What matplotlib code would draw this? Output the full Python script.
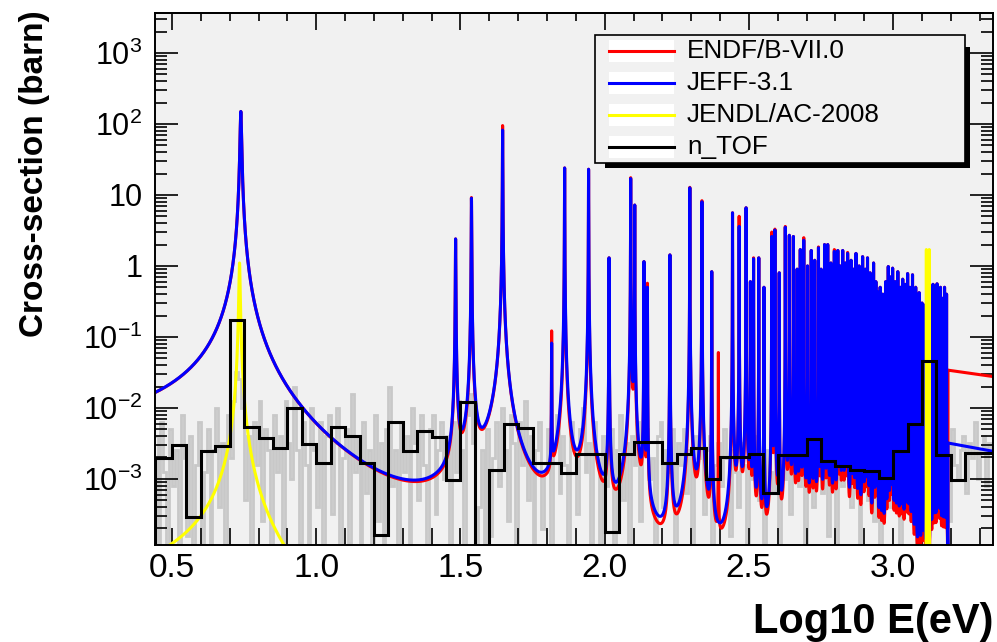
import numpy as np
import matplotlib.pyplot as plt
from matplotlib.ticker import MultipleLocator, LogLocator, FuncFormatter, NullFormatter
from matplotlib.patches import Rectangle
from matplotlib.lines import Line2D

plt.rcParams['font.family'] = ['Liberation Sans', 'DejaVu Sans']
plt.rcParams['mathtext.fontset'] = 'custom'
plt.rcParams['mathtext.rm'] = 'Liberation Sans'
plt.rcParams['mathtext.it'] = 'Liberation Sans:italic'
plt.rcParams['mathtext.bf'] = 'Liberation Sans:bold'

# --- resolved resonances: log10 E(eV) and peak cross-section (barn) ---
res_log_e = [0.7385, 1.483, 1.538, 1.646, 1.816, 1.861, 1.944, 2.015, 2.090, 2.104,
             2.136, 2.148, 2.226, 2.295, 2.337, 2.371, 2.394, 2.443, 2.466, 2.490,
             2.505, 2.516, 2.534, 2.552, 2.579, 2.590, 2.605, 2.626, 2.640, 2.654,
             2.667, 2.678, 2.690, 2.703, 2.716, 2.728, 2.741, 2.750, 2.762, 2.773,
             2.784, 2.796, 2.808, 2.816, 2.825, 2.834, 2.842, 2.854, 2.862, 2.871,
             2.882, 2.894, 2.903, 2.911, 2.920, 2.932, 2.940, 2.946, 2.955, 2.964,
             2.974, 2.983, 2.991, 2.998, 3.007, 3.016, 3.025, 3.033, 3.042, 3.050,
             3.058, 3.067, 3.078, 3.090, 3.100, 3.108, 3.116, 3.130, 3.138, 3.145,
             3.152, 3.158, 3.164, 3.171, 3.178, 3.185]
jeff_peak = [150, 2.4, 9.0, 82, 0.08, 24, 23, 1.3, 17, 7.2,
             1.15, 0.5, 1.43, 12.6, 8.0, 0.83, 0, 5.6, 3.6, 6.6,
             0.6, 1.26, 1.3, 0.5, 2.6, 3.2, 0.8, 3.5, 2.7, 2.6,
             0.9, 1.7, 2.3, 1.0, 1.65, 1.2, 1.8, 0.9, 2.0, 2.0,
             1.1, 1.6, 1.65, 1.0, 1.65, 1.1, 1.5, 1.2, 0.9, 1.5,
             1.0, 1.35, 0.9, 1.3, 0.8, 1.1, 0.6, 0.43, 0.5, 0.4,
             0.6, 0.98, 0.7, 0.93, 0.6, 0.83, 0.5, 0.65, 0.55, 0.78,
             0.5, 0.75, 0.5, 0.42, 0.3, 0.28, 0.15, 0.4, 0.55, 0.35,
             0.56, 0.3, 0.5, 0.35, 0.5, 0.4]
endf_peak = [150, 2.4, 9.2, 95, 0.12, 24, 23, 1.3, 17.5, 7.2,
             1.15, 0.57, 1.43, 12.8, 8.3, 0.83, 0.06, 5.6, 5.0, 6.6,
             0.6, 1.3, 1.3, 0.5, 3.0, 3.3, 0.8, 3.6, 2.7, 2.6,
             0.9, 1.7, 2.5, 1.0, 1.65, 1.2, 1.85, 0.9, 2.0, 2.0,
             1.1, 1.7, 1.65, 1.0, 1.65, 1.1, 1.55, 1.2, 0.9, 1.5,
             1.0, 1.35, 0.9, 1.3, 0.8, 1.1, 0.6, 0.43, 0.5, 0.4,
             0.6, 0.98, 0.7, 0.93, 0.6, 0.83, 0.5, 0.65, 0.55, 0.78,
             0.5, 0.75, 0.5, 0.42, 0.3, 0.28, 0.15, 0.4, 0.55, 0.35,
             0.56, 0.3, 0.5, 0.35, 0.5, 0.4]

jendl_log_e = [0.734, 3.115, 3.125]
jendl_peak = [1.1, 1.7, 1.7]

# unresolved range: smooth evaluated cross sections
tail_log_e = [3.19, 3.35]
endf_tail = [0.034, 0.0275]
jeff_tail = [3.2e-3, 2.43e-3]

# n_TOF data, coarse binning
ntof_edges = [0.44] + [round(0.50 + 0.05 * k, 2) for k in range(58)]
ntof_xs = [1.95e-3, 3.0e-3, 2.9e-4, 2.43e-3, 2.9e-3, 0.173, 5.3e-3, 3.74e-3, 2.7e-3, 9.9e-3,
           3.07e-3, 1.66e-3, 5.3e-3, 4.08e-3, 1.7e-3, 1.63e-4, 6.4e-3, 2.48e-3, 4.75e-3, 3.95e-3,
           9.7e-4, 1.23e-2, 1e-6, 1.34e-3, 5.9e-3, 5.2e-3, 1.66e-3, 1.66e-3, 1.2e-3, 2.25e-3,
           2.25e-3, 1.81e-4, 2.25e-3, 3.36e-3, 3.36e-3, 1.7e-3, 2.25e-3, 2.7e-3, 1.0e-3, 2.06e-3,
           2.0e-3, 2.25e-3, 6.3e-4, 2.15e-3, 2.15e-3, 3.6e-3, 1.8e-3, 1.5e-3, 1.34e-3, 1.3e-3,
           1.02e-3, 2.43e-3, 5.95e-3, 4.6e-2, 2.2e-3, 9.7e-4, 2.35e-3, 2.35e-3]

# n_TOF data, fine binning of 0.01 (log10 of cross section, -5 marks an empty bin)
fine_edges = [round(0.44 + 0.01 * k, 2) for k in range(292)]
fine_log_xs = [
    -2.4, -4.5, -2.2, -2.9, -5, -2.3, -3.1, -2.6, -5, -2.1,
    -2.7, -3.8, -2.4, -5, -2.8, -2.2, -4.0, -2.9, -2.3, -5,
    -2.6, -2.0, -3.4, -2.5, -5, -2.1, -2.7, -1.9, -1.5, -1.6,
    -2.0, -3.3, -2.4, -5, -2.2, -2.8, -1.9, -3.6, -2.3, -2.6,
    -5, -2.1, -2.9, -2.4, -4.2, -1.9, -2.5, -3.0, -1.7, -2.6,
    -3.9, -2.2, -2.8, -5, -2.0, -2.6, -3.4, -2.2, -5, -2.4,
    -2.1, -3.5, -2.5, -2.0, -5, -2.7, -2.3, -3.9, -1.8, -2.9,
    -2.4, -5, -2.2, -3.2, -2.6, -5, -2.1, -3.6, -2.5, -4.8,
    -2.3, -1.7, -3.1, -2.6, -5, -2.2, -2.9, -2.4, -4.1, -2.0,
    -2.5, -3.3, -2.1, -2.8, -5, -2.3, -2.1, -3.5, -2.6, -2.2,
    -3.0, -2.4, -5, -2.2, -2.9, -1.9, -2.6, -4.0, -2.1, -1.8,
    -2.5, -5, -3.4, -2.6, -5, -2.3, -3.8, -2.7, -2.2, -3.1,
    -2.0, -2.6, -3.6, -2.1, -2.5, -5, -2.2, -2.8, -1.9, -3.3,
    -2.4, -5, -2.6, -2.2, -3.7, -2.9, -2.3, -5, -2.5, -2.1,
    -3.2, -2.4, -2.8, -5, -2.2, -2.6, -3.5, -2.3, -2.0, -2.9,
    -2.5, -3.9, -2.2, -2.7, -5, -2.4, -3.1, -2.6, -2.3, -4.4,
    -2.6, -2.1, -3.3, -2.5, -5, -2.4, -2.8, -2.2, -3.6, -2.5,
    -2.3, -3.0, -2.7, -5, -2.4, -2.2, -3.4, -2.6, -2.9, -2.3,
    -4.2, -2.5, -2.8, -2.3, -3.2, -2.6, -5, -2.4, -2.7, -2.2,
    -3.5, -2.6, -2.4, -5, -2.8, -2.5, -3.1, -2.3, -2.7, -3.8,
    -2.6, -2.9, -3.4, -2.5, -2.8, -5, -2.6, -3.0, -2.4, -3.3,
    -2.7, -3.9, -2.6, -2.9, -3.2, -2.5, -5, -2.8, -3.0, -2.6,
    -3.5, -2.7, -2.5, -3.1, -2.8, -5, -2.6, -2.9, -3.4, -2.5,
    -2.8, -3.2, -2.6, -3.8, -2.7, -2.9, -5, -2.6, -3.1, -2.8,
    -2.7, -3.4, -2.9, -2.6, -5, -3.0, -2.8, -3.3, -2.7, -3.6,
    -2.9, -5, -2.8, -3.1, -2.6, -3.4, -2.9, -2.7, -4.0, -2.8,
    -3.0, -2.7, -3.3, -2.6, -5, -2.9, -2.5, -3.2, -2.8, -3.5,
    -2.4, -2.9, -3.1, -2.6, -2.5, -3.6, -2.3, -2.8, -3.0, -2.6,
    -2.4, -3.2, -2.5, -2.7, -2.2, -3.0, -2.6, -2.4, -3.1, -2.5,
    -2.6]


def resonance_curve(log_e, peaks, a2, b, lo=0.44, hi=3.19):
    """Sum of Breit-Wigner shapes, half width sqrt(a2 + b*E)."""
    e0 = 10 ** np.asarray(log_e, float)
    p = np.asarray(peaks, float)
    keep = p > 0
    e0, p = e0[keep], p[keep]
    g = np.sqrt(a2 + b * e0)
    offs = np.array([0, 0.25, 0.5, 1, 2, 4, 8, 16, 32, 64, 128])
    offs = np.concatenate([-offs, offs])
    local = (e0[:, None] + g[:, None] * offs[None, :]).ravel()
    e = np.unique(np.concatenate([np.logspace(lo, hi, 40000), local]))
    e = e[(e >= 10 ** lo) & (e <= 10 ** hi)]
    xs = np.zeros_like(e)
    for ei, pi, gi in zip(e0, p, g):
        xs += pi * gi ** 2 / (gi ** 2 + (e - ei) ** 2)
    return np.log10(e), xs


fig = plt.figure(figsize=(9.97, 6.42), dpi=100)
ax = fig.add_axes([155 / 997, 97 / 642, 838 / 997, 532 / 642])
ax.set_facecolor('#f1f1f1')

ax.stairs(10 ** np.array(fine_log_xs), fine_edges, baseline=None,
          color='#c8c8c8', lw=2.0, zorder=1)

x_endf, y_endf = resonance_curve(res_log_e, endf_peak, 6.9e-4, 2.0e-5)
x_jeff, y_jeff = resonance_curve(res_log_e, jeff_peak, 6.5e-4, 2.8e-5)
x_jendl, y_jendl = resonance_curve(jendl_log_e, jendl_peak, 5.7e-4, 0.0)

ax.plot(np.concatenate([x_endf, tail_log_e]), np.concatenate([y_endf, endf_tail]),
        color='red', lw=2.2, zorder=2)
ax.plot(np.concatenate([x_jeff, tail_log_e]), np.concatenate([y_jeff, jeff_tail]),
        color='blue', lw=2.2, zorder=3)
ax.plot(x_jendl, np.maximum(y_jendl, 1e-8), color='yellow', lw=2.2, zorder=4)

ax.stairs(ntof_xs, ntof_edges, baseline=1e-6, color='black', lw=2.2, zorder=5)

ax.set_yscale('log')
ax.set_xlim(0.441, 3.346)
ax.set_ylim(1.17e-4, 3660)

for s in ax.spines.values():
    s.set_linewidth(1.4)
    s.set_zorder(6)

ax.xaxis.set_major_locator(MultipleLocator(0.5))
ax.xaxis.set_minor_locator(MultipleLocator(0.1))
ax.xaxis.set_major_formatter(FuncFormatter(lambda v, p: '%.1f' % v))
ax.yaxis.set_major_locator(LogLocator(base=10, numticks=20))
ax.yaxis.set_minor_locator(LogLocator(base=10, subs=np.arange(2, 10), numticks=20))
ax.yaxis.set_minor_formatter(NullFormatter())


def ylab(v, pos):
    n = int(round(np.log10(v)))
    if n == 0:
        return '1'
    if n == 1:
        return '10'
    return r'$\mathregular{10^{%d}}$' % n


ax.yaxis.set_major_formatter(FuncFormatter(ylab))
ax.tick_params(axis='x', which='both', direction='in', length=12, width=1.2,
               labelsize=24, pad=6, top=False)
ax.tick_params(axis='y', which='major', direction='in', length=16.5, width=1.2,
               labelsize=22, pad=9, right=True)
ax.tick_params(axis='y', which='minor', direction='in', length=8.5, width=1.2, right=True)

top = ax.secondary_xaxis('top')
top.xaxis.set_major_locator(MultipleLocator(0.5))
top.xaxis.set_minor_locator(MultipleLocator(0.1))
top.tick_params(which='major', direction='in', length=12, width=1.2, labeltop=False)
top.tick_params(which='minor', direction='in', length=6, width=1.2)
top.spines['top'].set_linewidth(1.4)

fig.text(35 / 997, 1 - 10 / 642, 'Cross-section (barn)', rotation=90,
         ha='center', va='top', fontsize=24, fontweight='bold')
fig.text(993 / 997, 1 - 633 / 642, 'Log10 E(eV)', ha='right', va='baseline',
         fontsize=30, fontweight='bold')


# legend box with drop shadow, laid out in figure pixels
def fx(x):
    return x / 997


def fy(y):
    return 1 - y / 642


fig.add_artist(Rectangle((fx(605), fy(168)), 365 / 997, 121 / 642,
                         transform=fig.transFigure, fc='black', ec='none', zorder=10))
fig.add_artist(Rectangle((fx(595), fy(163)), 370 / 997, 128 / 642,
                         transform=fig.transFigure, fc='#f1f1f1', ec='black', lw=1.2, zorder=11))
labels = ['ENDF/B-VII.0', 'JEFF-3.1', 'JENDL/AC-2008', 'n_TOF']
colors = ['red', 'blue', 'yellow', 'black']
rows = [51, 83, 115, 147]
for lab, col, ry in zip(labels, colors, rows):
    fig.add_artist(Rectangle((fx(609), fy(ry + 11)), 65 / 997, 22 / 642,
                             transform=fig.transFigure, fc='white', ec='none', zorder=12))
    fig.add_artist(Line2D([fx(609), fx(674)], [fy(ry), fy(ry)], color=col, lw=2.2,
                          transform=fig.transFigure, zorder=13))
    fig.text(fx(687), fy(ry), lab, ha='left', va='center', fontsize=18.8, zorder=14)

fig.savefig('out.png', dpi=100)
